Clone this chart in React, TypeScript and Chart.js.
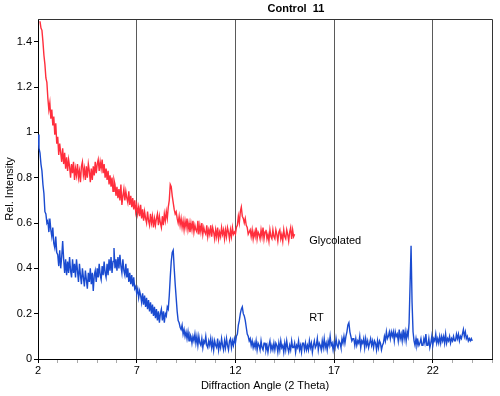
import React, { useEffect, useRef } from "react";
import { Chart, registerables } from "chart.js";

Chart.register(...registerables);

const STEP = 0.05;
const glycolatedStart = 2.1;
const rtStart = 2.0;

const glycolated: number[] = [
  1.49, 1.46, 1.45, 1.40, 1.34, 1.30, 1.24, 1.22,
  1.15, 1.10, 1.13, 1.06, 1.10, 1.03, 1.07, 0.99, 1.04, 0.95,
  0.98, 0.90, 0.95, 0.91, 0.87, 0.93, 0.86, 0.91, 0.84, 0.89,
  0.83, 0.88, 0.85, 0.80, 0.86, 0.82, 0.87, 0.79, 0.84, 0.81,
  0.86, 0.80, 0.83, 0.78, 0.85, 0.87, 0.81, 0.84, 0.79, 0.85,
  0.80, 0.86, 0.83, 0.78, 0.84, 0.79, 0.85, 0.81, 0.87, 0.82,
  0.86, 0.88, 0.83, 0.87, 0.84, 0.88, 0.82, 0.86, 0.80, 0.84,
  0.79, 0.83, 0.77, 0.81, 0.76, 0.80, 0.74, 0.79, 0.77, 0.72,
  0.76, 0.71, 0.75, 0.70, 0.77, 0.68, 0.72, 0.75, 0.70, 0.74,
  0.71, 0.69, 0.74, 0.68, 0.72, 0.67, 0.71, 0.66, 0.70, 0.65,
  0.68, 0.64, 0.67, 0.63, 0.68, 0.62, 0.66, 0.61, 0.65, 0.62,
  0.60, 0.65, 0.61, 0.59, 0.64, 0.60, 0.63, 0.58, 0.62, 0.59,
  0.62, 0.64, 0.59, 0.63, 0.60, 0.58, 0.63, 0.59, 0.64, 0.61,
  0.65, 0.62, 0.67, 0.70, 0.77, 0.76, 0.72, 0.69, 0.66, 0.64,
  0.65, 0.62, 0.60, 0.63, 0.59, 0.62, 0.58, 0.61, 0.57, 0.61,
  0.58, 0.62, 0.57, 0.60, 0.56, 0.60, 0.57, 0.61, 0.56, 0.59,
  0.57, 0.56, 0.61, 0.55, 0.59, 0.56, 0.60, 0.55, 0.58, 0.56,
  0.55, 0.59, 0.54, 0.57, 0.55, 0.59, 0.54, 0.58, 0.56, 0.53,
  0.57, 0.54, 0.58, 0.53, 0.56, 0.54, 0.58, 0.55, 0.57, 0.53,
  0.57, 0.54, 0.58, 0.56, 0.53, 0.57, 0.54, 0.58, 0.55, 0.56,
  0.55, 0.58, 0.59, 0.63, 0.60, 0.65, 0.67, 0.63, 0.62, 0.60,
  0.62, 0.59, 0.58, 0.55, 0.56, 0.57, 0.54, 0.57, 0.53, 0.56,
  0.54, 0.58, 0.53, 0.56, 0.55, 0.53, 0.57, 0.54, 0.58, 0.53,
  0.56, 0.57, 0.53, 0.55, 0.52, 0.57, 0.54, 0.53, 0.57, 0.54,
  0.53, 0.57, 0.55, 0.52, 0.56, 0.57, 0.53, 0.55, 0.52, 0.57,
  0.54, 0.53, 0.57, 0.55, 0.52, 0.56, 0.58, 0.53, 0.57, 0.54,
  0.55,
];

const rt: number[] = [
  0.99, 0.93, 0.91, 0.86, 0.83, 0.77, 0.73, 0.65, 0.64, 0.60,
  0.61, 0.56, 0.62, 0.57, 0.54, 0.58, 0.51, 0.49, 0.54, 0.47,
  0.46, 0.41, 0.48, 0.40, 0.45, 0.52, 0.44, 0.38, 0.44, 0.37,
  0.43, 0.38, 0.45, 0.39, 0.36, 0.44, 0.38, 0.42, 0.36, 0.44,
  0.39, 0.34, 0.42, 0.37, 0.33, 0.40, 0.36, 0.32, 0.39, 0.35,
  0.31, 0.38, 0.34, 0.40, 0.33, 0.38, 0.30, 0.37, 0.39, 0.34,
  0.40, 0.36, 0.42, 0.37, 0.35, 0.41, 0.37, 0.43, 0.38, 0.36,
  0.42, 0.37, 0.44, 0.39, 0.45, 0.38, 0.43, 0.49, 0.40, 0.44,
  0.39, 0.45, 0.40, 0.46, 0.41, 0.38, 0.44, 0.39, 0.37, 0.42,
  0.36, 0.40, 0.34, 0.38, 0.33, 0.37, 0.32, 0.36, 0.31, 0.32,
  0.29, 0.31, 0.27, 0.30, 0.28, 0.25, 0.29, 0.24, 0.28, 0.23,
  0.27, 0.22, 0.26, 0.21, 0.25, 0.20, 0.24, 0.19, 0.23, 0.18,
  0.22, 0.17, 0.21, 0.16, 0.20, 0.22, 0.17, 0.21, 0.16, 0.20,
  0.19, 0.23, 0.22, 0.28, 0.36, 0.43, 0.47, 0.48, 0.40, 0.33,
  0.27, 0.21, 0.17, 0.16, 0.14, 0.13, 0.15, 0.11, 0.13, 0.10,
  0.12, 0.09, 0.12, 0.08, 0.11, 0.10, 0.07, 0.10, 0.08, 0.11,
  0.07, 0.10, 0.06, 0.10, 0.07, 0.06, 0.09, 0.05, 0.08, 0.07,
  0.10, 0.06, 0.05, 0.08, 0.06, 0.09, 0.05, 0.08, 0.04, 0.08,
  0.06, 0.05, 0.09, 0.04, 0.07, 0.05, 0.09, 0.06, 0.04, 0.08,
  0.05, 0.09, 0.06, 0.04, 0.08, 0.09, 0.05, 0.08, 0.06, 0.09,
  0.07, 0.10, 0.11, 0.15, 0.17, 0.20, 0.22, 0.23, 0.20, 0.19,
  0.17, 0.14, 0.11, 0.10, 0.08, 0.09, 0.06, 0.08, 0.05, 0.07,
  0.05, 0.08, 0.04, 0.07, 0.06, 0.04, 0.08, 0.05, 0.04, 0.07,
  0.07, 0.04, 0.06, 0.03, 0.06, 0.08, 0.04, 0.06, 0.04, 0.07,
  0.04, 0.07, 0.06, 0.03, 0.07, 0.04, 0.08, 0.05, 0.06, 0.03,
  0.07, 0.04, 0.08, 0.05, 0.03, 0.06, 0.04, 0.08, 0.05, 0.05,
  0.07, 0.03, 0.06, 0.05, 0.08, 0.04, 0.06, 0.03, 0.07, 0.07,
  0.04, 0.07, 0.04, 0.06, 0.04, 0.08, 0.05, 0.07, 0.03, 0.06,
  0.08, 0.05, 0.06, 0.09, 0.04, 0.07, 0.06, 0.04, 0.08, 0.05,
  0.09, 0.05, 0.07, 0.04, 0.08, 0.06, 0.10, 0.06, 0.07, 0.04,
  0.07, 0.05, 0.09, 0.06, 0.05, 0.08, 0.07, 0.05, 0.09, 0.07,
  0.10, 0.07, 0.10, 0.12, 0.15, 0.16, 0.12, 0.10, 0.08, 0.09,
  0.09, 0.06, 0.09, 0.06, 0.08, 0.07, 0.10, 0.05, 0.08, 0.07,
  0.09, 0.05, 0.09, 0.06, 0.08, 0.05, 0.07, 0.09, 0.06, 0.08,
  0.05, 0.08, 0.07, 0.04, 0.08, 0.05, 0.08, 0.07, 0.04, 0.06,
  0.07, 0.10, 0.08, 0.12, 0.09, 0.10, 0.12, 0.09, 0.12, 0.10,
  0.12, 0.08, 0.12, 0.10, 0.11, 0.08, 0.13, 0.09, 0.11, 0.08,
  0.13, 0.09, 0.12, 0.08, 0.12, 0.10, 0.16, 0.33, 0.50, 0.25,
  0.12, 0.08, 0.06, 0.09, 0.06, 0.08, 0.06, 0.07, 0.09, 0.06,
  0.06, 0.09, 0.07, 0.11, 0.06, 0.06, 0.09, 0.05, 0.07, 0.10,
  0.06, 0.09, 0.08, 0.11, 0.07, 0.09, 0.07, 0.10, 0.07, 0.10,
  0.08, 0.10, 0.07, 0.11, 0.07, 0.09, 0.08, 0.10, 0.07, 0.09,
  0.08, 0.10, 0.08, 0.08, 0.11, 0.09, 0.11, 0.08, 0.10, 0.09,
  0.11, 0.13, 0.10, 0.12, 0.09, 0.10, 0.08, 0.09, 0.08, 0.09,
  0.08,
];

const majorXTicks = [2, 7, 12, 17, 22];
const gridXLines = [7, 12, 17, 22];
const seriesLabels = { glycolated: "Glycolated", rt: "RT" };
const titleText = "Control  11";
const xTitle = "Diffraction Angle (2 Theta)";
const yTitle = "Rel. Intensity";

const toPoints = (start: number, values: number[]) =>
  values.map((y, i) => ({ x: Number((start + i * STEP).toFixed(2)), y }));

const FONT = "Arial, 'Liberation Sans', sans-serif";

export default function App() {
  const ref = useRef<HTMLCanvasElement | null>(null);

  useEffect(() => {
    if (!ref.current) return;

    const overlay = {
      id: "overlay",
      afterDatasetsDraw(chart: any) {
        const { ctx, chartArea, scales } = chart;
        ctx.save();
        ctx.strokeStyle = "#333";
        ctx.lineWidth = 1;
        ctx.beginPath();
        ctx.moveTo(chartArea.left, chartArea.top + 0.5);
        ctx.lineTo(chartArea.right + 0.5, chartArea.top + 0.5);
        ctx.lineTo(chartArea.right + 0.5, chartArea.bottom);
        ctx.stroke();

        ctx.fillStyle = "#000";
        ctx.font = `11px ${FONT}`;
        ctx.textBaseline = "middle";
        ctx.textAlign = "left";
        ctx.fillText(
          seriesLabels.glycolated,
          scales.x.getPixelForValue(15.74),
          scales.y.getPixelForValue(0.52)
        );
        ctx.fillText(
          seriesLabels.rt,
          scales.x.getPixelForValue(15.74),
          scales.y.getPixelForValue(0.18)
        );

        ctx.font = `bold 11px ${FONT}`;
        ctx.textAlign = "center";
        ctx.fillText(titleText, 296, 9);
        ctx.restore();
      },
    };

    const chart = new Chart(ref.current, {
      type: "line",
      data: {
        datasets: [
          {
            label: seriesLabels.glycolated,
            data: toPoints(glycolatedStart, glycolated),
            borderColor: "#ff2e3c",
            borderWidth: 1.4,
            pointRadius: 0,
            tension: 0,
          },
          {
            label: seriesLabels.rt,
            data: toPoints(rtStart, rt),
            borderColor: "#1a4bd0",
            borderWidth: 1.4,
            pointRadius: 0,
            tension: 0,
          },
        ],
      },
      options: {
        animation: false,
        responsive: false,
        events: [],
        layout: { padding: { top: 19, right: 8, left: 0, bottom: 0 } },
        plugins: {
          legend: { display: false },
          tooltip: { enabled: false },
          title: { display: false },
        },
        scales: {
          x: {
            type: "linear",
            min: 2,
            max: 25,
            afterFit: (s: any) => {
              s.height = 37;
            },
            border: { color: "#000", width: 1 },
            grid: {
              color: (c: any) =>
                gridXLines.includes(c.tick?.value) ? "#5a5a5a" : "rgba(0,0,0,0)",
              tickColor: (c: any) =>
                majorXTicks.includes(c.tick?.value) ? "#000" : "#aaa",
              tickLength: 4,
            },
            ticks: {
              stepSize: 1,
              autoSkip: false,
              maxRotation: 0,
              padding: 1,
              color: "#000",
              font: { family: FONT, size: 11 },
              callback: (v: any) => (majorXTicks.includes(Number(v)) ? String(v) : ""),
            },
            title: {
              display: true,
              text: xTitle,
              color: "#000",
              font: { family: FONT, size: 11 },
              padding: { top: 0, bottom: 3 },
            },
          },
          y: {
            type: "linear",
            min: 0,
            max: 1.5,
            afterFit: (s: any) => {
              s.width = 38;
            },
            border: { color: "#000", width: 1 },
            grid: { drawOnChartArea: false, tickLength: 4, tickColor: "#000" },
            ticks: {
              stepSize: 0.2,
              includeBounds: false,
              padding: 2,
              color: "#000",
              font: { family: FONT, size: 11 },
              callback: (v: any) => String(Math.round(Number(v) * 10) / 10),
            },
            title: {
              display: true,
              text: yTitle,
              color: "#000",
              font: { family: FONT, size: 11 },
              padding: { top: 3, bottom: 0 },
            },
          },
        },
      },
      plugins: [overlay],
    } as any);

    return () => chart.destroy();
  }, []);

  return (
    <div style={{ position: "fixed", left: 0, top: 0, width: 500, height: 396, background: "#fff" }}>
      <canvas ref={ref} width={500} height={396} style={{ width: 500, height: 396 }} />
    </div>
  );
}
